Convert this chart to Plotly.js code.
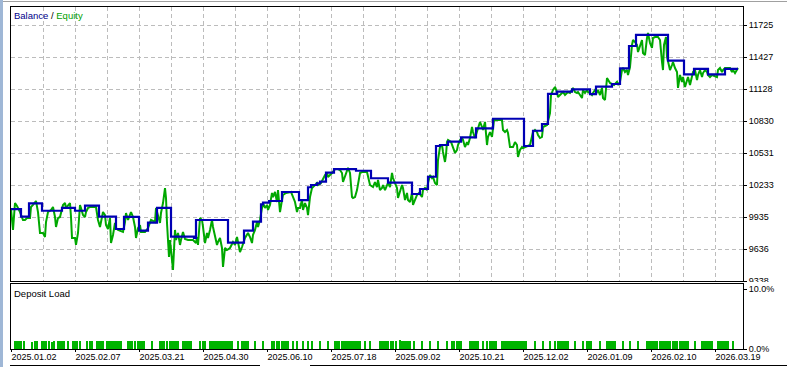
<!DOCTYPE html>
<html>
<head>
<meta charset="utf-8">
<script src="https://cdn.plot.ly/plotly-3.0.1.min.js"></script>
<style>
  html, body { margin: 0; padding: 0; background: #ffffff; }
  #chart { width: 787px; height: 367px; }
</style>
</head>
<body>
<div id="chart"></div>
<script>
// ---- data (x = position along the tester timeline, in bars) ----
const equityX = [0,1,2,4,6,9,12,14,16,19,20,22,25,27,29,32,34,35,37,40,42,44,45,47,49,52,54,55,57,59,60,61,64,65,67,69,70,72,74,75,77,79,85,87,89,90,92,94,95,97,99,100,102,104,105,107,110,112,114,115,117,119,120,122,124,125,127,129,130,134,137,140,144,145,147,149,150,152,154,155,156,158,159,160,162,164,165,167,169,170,172,174,177,182,184,185,186,187,189,191,192,194,196,197,199,201,202,204,206,207,209,211,212,214,216,219,222,224,226,227,229,231,234,237,239,241,242,244,246,247,249,251,252,254,256,257,259,261,262,264,266,267,269,271,272,275,280,284,286,287,289,291,292,294,296,297,299,301,302,304,306,307,310,314,316,317,319,321,324,327,329,331,332,334,336,337,339,341,342,344,346,347,349,351,356,359,361,362,364,366,367,369,371,372,374,376,377,379,381,382,384,386,387,389,391,392,394,396,397,399,401,402,404,406,408,411,412,414,416,417,419,421,422,424,426,427,429,431,432,434,435,436,437,440,444,446,447,449,451,452,454,456,457,459,461,462,464,466,467,469,471,472,474,476,477,479,481,482,483,491,492,494,496,497,499,502,504,506,507,509,511,512,514,516,519,522,524,526,527,529,531,532,536,539,540,542,544,546,547,549,551,552,554,556,557,559,561,562,564,566,567,569,571,572,574,576,577,579,581,582,584,586,587,589,591,592,594,596,597,599,603,606,607,609,611,612,614,616,617,619,621,622,624,626,627,629,631,632,634,636,637,639,641,642,644,647,649,651,652,653,655,656,657,659,661,662,664,666,667,669,671,672,674,676,677,679,681,682,684,686,687,689,691,692,694,696,697,699,701,706,707,709,711,712,714,719,721,722,724,726,727];
const equity = [10009,9907,9814,10065,10037,9981,9907,9907,9925,9925,10028,10047,10084,9981,9786,9786,9748,9888,9981,10000,10028,9935,9842,9925,9935,10047,10065,10019,10047,10065,9935,9739,9739,9674,9786,10047,10019,9953,9935,9981,10019,10028,10028,9907,9842,9888,9981,9953,9860,9823,9925,9692,9767,9879,9832,9814,9804,9795,9888,9972,9907,9953,9981,9935,9842,9739,9832,9860,9795,9795,9832,9907,9888,10019,9935,9879,9972,10065,10205,10112,9879,9562,9720,9599,9441,9814,9720,9786,9674,9720,9795,9730,9720,9720,9702,9692,9748,9674,9925,9907,9842,9692,9786,9739,9814,9907,9842,9748,9674,9702,9739,9646,9469,9646,9627,9646,9702,9674,9748,9702,9608,9655,9739,9786,9748,9692,9767,9814,9888,9842,9907,10019,10065,10019,10047,10000,10047,10159,10121,10168,10075,10186,9981,10093,10140,10159,10168,10075,9981,10019,10019,10093,10000,10065,10019,9953,10121,10205,10214,10233,10252,10233,10252,10326,10345,10308,10326,10345,10382,10382,10373,10345,10261,10308,10373,10392,10345,10121,10112,10121,10186,10252,10345,10354,10354,10233,10214,10214,10261,10214,10280,10186,10205,10233,10186,10233,10252,10214,10345,10298,10252,10205,10112,10168,10233,10205,10093,10159,10093,10075,10159,10047,10093,10140,10159,10121,10186,10205,10186,10252,10326,10298,10308,10252,10233,10466,10587,10606,10541,10448,10513,10634,10653,10634,10532,10560,10606,10653,10671,10653,10587,10634,10606,10671,10774,10727,10671,10727,10774,10821,10774,10746,10821,10606,10681,10727,10681,10765,10839,10839,10746,10727,10746,10718,10587,10587,10634,10606,10494,10560,10587,10578,10587,10597,10606,10727,10746,10727,10699,10671,10681,10774,10793,10904,11072,11119,11147,11100,11054,11072,11091,11100,11072,11091,11100,11091,11119,11138,11100,11091,11100,11072,11044,11119,11091,11119,11100,11091,11072,11091,11119,11100,11119,11072,11138,11044,11026,11231,11212,11184,11166,11194,11166,11194,11305,11324,11287,11305,11259,11333,11539,11585,11566,11539,11473,11520,11585,11464,11445,11604,11650,11557,11511,11604,11613,11613,11585,11380,11305,11539,11613,11427,11380,11305,11352,11380,11324,11287,11138,11259,11194,11240,11147,11212,11240,11166,11231,11287,11305,11212,11259,11305,11240,11277,11305,11287,11259,11240,11259,11240,11305,11324,11287,11305,11324,11324,11287,11305,11277,11305,11324];

const balanceX = [0,10,18,31,51,64,74,88,105,113,128,137,146,160,183,185,217,233,242,250,252,258,271,288,297,300,306,309,315,323,345,360,377,401,409,417,425,429,437,450,465,482,513,522,531,537,546,561,579,585,601,609,618,625,657,673,683,697,714,727];
const balance = [10009,9938,10062,9993,10019,9993,10040,9938,9823,9935,9807,9882,10019,9751,9739,9907,9695,9807,9891,10053,10068,10084,10168,10093,10212,10233,10249,10264,10348,10382,10366,10296,10255,10149,10196,10310,10597,10606,10637,10678,10762,10851,10597,10739,10802,11082,11103,11125,11080,11150,11175,11321,11529,11632,11392,11265,11315,11265,11315,11315];

const loadX = [4,6,8,10,13,21,24,26,31,33,35,38,41,43,47,49,51,53,57,62,64,66,69,76,79,81,86,88,90,92,96,98,100,102,104,106,108,110,117,119,121,124,127,129,131,133,141,149,151,153,156,159,161,163,165,167,172,174,176,178,180,189,192,194,199,201,203,205,207,209,211,213,215,217,219,221,227,231,233,235,237,244,252,261,263,266,268,271,273,275,277,282,286,292,297,301,309,317,324,326,328,331,333,335,337,339,341,343,345,347,349,354,359,369,371,373,375,377,380,382,385,389,391,393,395,397,399,403,411,419,427,436,441,443,446,448,450,459,461,463,465,467,472,476,479,481,483,485,491,493,495,497,499,501,503,505,507,509,511,513,515,524,532,539,544,547,549,551,553,555,557,564,572,576,578,580,589,596,598,600,602,604,612,619,627,636,638,640,642,644,646,649,651,653,655,657,659,662,664,666,669,671,673,675,677,684,691,693,695,697,699,701,707,709,711,713,715,717,722];
const loadPct = [
 1.3,1.4,1.3,1.3,1.3,1.2,1.3,1.3,1.4,1.3,
 1.3,1.3,1.2,1.3,1.3,1.3,1.3,1.3,1.3,1.3,
 1.3,1.3,1.3,1.3,1.3,1.3,1.3,1.3,1.3,1.3,
 1.3,1.3,1.3,1.3,1.3,1.3,1.3,1.3,1.3,1.3,
 1.3,1.3,1.3,1.3,1.3,1.3,1.3,1.3,1.3,1.3,
 1.3,1.3,1.3,1.3,1.3,1.3,1.3,1.3,1.3,1.3,
 1.3,1.3,1.3,1.3,1.3,1.3,1.3,1.3,1.3,1.3,
 1.3,1.3,1.3,1.3,1.3,1.3,1.3,1.3,1.3,1.3,
 1.3,1.3,1.3,1.3,1.3,1.3,1.3,1.3,1.3,1.3,
 1.3,1.3,1.3,1.3,1.3,1.3,1.3,1.3,1.3,1.3,
 1.3,1.3,1.3,1.3,1.3,1.3,1.3,1.3,1.3,1.3,
 1.3,1.3,1.3,1.3,1.3,1.3,1.3,1.3,1.3,1.3,
 1.3,1.5,1.3,1.3,1.3,1.3,1.3,1.3,1.3,1.3,
 1.3,1.3,1.3,1.3,1.3,1.3,1.3,1.3,1.3,1.3,
 1.3,1.3,1.3,1.3,1.3,1.3,1.3,1.3,1.3,1.3,
 1.3,1.3,1.3,1.3,1.3,1.3,1.3,1.3,1.3,1.3,
 1.3,1.3,1.3,1.3,1.3,1.3,1.3,1.3,1.3,1.3,
 1.3,1.3,1.3,1.3,1.3,1.3,1.3,1.3,1.3,1.3,
 1.3,1.3,1.3,1.3,1.3,1.3,1.3,1.3,1.3,1.3,
 1.3,1.3,1.3,1.3,1.3,1.3,1.3,1.3,1.3,1.3,
 1.3,1.3,1.3,1.3,1.3,1.3,1.3,1.3,1.3,1.3,
 1.3,1.3,1.3,1.3,1.3,1.3,1.3,1.3,1.3];

const dateTickX = [0,64,128,192,256,320,384,448,512,576,640,704];
const dateLabels = ['2025.01.02','2025.02.07','2025.03.21','2025.04.30','2025.06.10','2025.07.18','2025.09.02','2025.10.21','2025.12.02','2026.01.09','2026.02.10','2026.03.19'];
const gridTickX = [32,64,96,128,160,192,224,256,288,320,352,384,416,448,480,512,544,576,608,640,672,704];
const valueTicks = [9338,9636.375,9934.75,10233.125,10531.5,10829.875,11128.25,11426.625,11725];
const valueLabels = ['9338','9636','9935','10233','10531','10830','11128','11427','11725'];
const loadTicks = [0,10];
const loadLabels = ['0.0%','10.0%'];

// ---- layout helpers ----
const W = 787, H = 367;
const px = v => v / W;
const py = v => 1 - v / H;
const FONT = 'Liberation Sans, Arial, sans-serif';
const GRID = '#bcbcbc';
const GDASH = '4px,3px';

const traces = [
  {x: equityX, y: equity, type: 'scatter', mode: 'lines', xaxis: 'x2', yaxis: 'y',
   line: {color: '#00a800', width: 2}, hoverinfo: 'skip', showlegend: false},
  {x: balanceX, y: balance, type: 'scatter', mode: 'lines', xaxis: 'x2', yaxis: 'y',
   line: {color: '#0000b4', width: 2.2, shape: 'hv'}, hoverinfo: 'skip', showlegend: false},
  {x: loadX, y: loadPct, type: 'bar', xaxis: 'x', yaxis: 'y2', width: 1.6,
   marker: {color: '#00b400', line: {width: 0}}, hoverinfo: 'skip', showlegend: false}
];

const xDomain = [px(11), px(743)];
const layout = {
  width: W, height: H,
  margin: {l: 0, r: 0, t: 0, b: 0},
  paper_bgcolor: '#ffffff', plot_bgcolor: '#ffffff',
  font: {family: FONT, size: 9, color: '#000000'},
  bargap: 0,
  xaxis: {
    domain: xDomain, anchor: 'y2', range: [0, 732],
    tickmode: 'array', tickvals: dateTickX, ticktext: dateLabels,
    ticks: 'outside', ticklen: 2, tickcolor: '#000', ticklabelshift: 23, ticklabelstandoff: -3,
    tickfont: {family: FONT, size: 9, color: '#000'},
    showgrid: false,
    showline: true, linecolor: '#000', linewidth: 1, mirror: true, zeroline: false
  },
  xaxis2: {
    domain: xDomain, anchor: 'y', range: [0, 732],
    tickmode: 'array', tickvals: gridTickX, showticklabels: false, ticks: '',
    showgrid: true, gridcolor: GRID, griddash: GDASH, gridwidth: 1,
    showline: true, linecolor: '#000', linewidth: 1, mirror: true, zeroline: false
  },
  xaxis3: {
    domain: xDomain, anchor: 'y2', overlaying: 'x', range: [0, 732],
    tickmode: 'array', tickvals: gridTickX, showticklabels: false, ticks: '',
    showgrid: true, gridcolor: GRID, griddash: GDASH, gridwidth: 1,
    showline: false, zeroline: false
  },
  yaxis: {
    domain: [py(281), py(7)], anchor: 'x2', side: 'right',
    range: [9338, 9338 + 274 * 298.375 / 32],
    tickmode: 'array', tickvals: valueTicks, ticktext: valueLabels,
    ticks: 'outside', ticklen: 3, tickcolor: '#000',
    tickfont: {family: FONT, size: 9, color: '#000'},
    showgrid: true, gridcolor: GRID, griddash: GDASH, gridwidth: 1,
    showline: true, linecolor: '#000', linewidth: 1, mirror: true, zeroline: false
  },
  yaxis2: {
    domain: [py(349), py(284)], anchor: 'x', side: 'right',
    range: [0, 65 / 6],
    tickmode: 'array', tickvals: loadTicks, ticktext: loadLabels,
    ticks: 'outside', ticklen: 3, tickcolor: '#000',
    tickfont: {family: FONT, size: 9, color: '#000'},
    showgrid: false,
    showline: true, linecolor: '#000', linewidth: 1, mirror: true, zeroline: false
  },
  shapes: [
    {type: 'rect', xref: 'paper', yref: 'paper', x0: 0, x1: px(3), y0: 0, y1: 1,
     fillcolor: '#9fb7d6', line: {width: 0}, layer: 'above'},
    {type: 'line', xref: 'paper', yref: 'paper', x0: px(3), x1: 1, y0: py(1.5), y1: py(1.5),
     line: {color: '#a0a0a0', width: 1}, layer: 'above'},
    {type: 'line', xref: 'paper', yref: 'paper', x0: px(10), x1: px(260), y0: py(365.5), y1: py(365.5),
     line: {color: '#000', width: 1}, layer: 'above'},
    {type: 'line', xref: 'paper', yref: 'paper', x0: px(310), x1: 1, y0: py(365.5), y1: py(365.5),
     line: {color: '#000', width: 1}, layer: 'above'},
    {type: 'rect', xref: 'paper', yref: 'paper', x0: px(744.5), x1: 1, y0: py(285), y1: py(282),
     fillcolor: '#ffffff', line: {width: 0}, layer: 'above'}
  ],
  annotations: [
    {xref: 'paper', yref: 'paper', x: px(12), y: py(8), xanchor: 'left', yanchor: 'top', showarrow: false,
     text: '<span style="color:#00008b">Balance</span> / <span style="color:#00a000">Equity</span>',
     font: {family: FONT, size: 9.5, color: '#000'}},
    {xref: 'paper', yref: 'paper', x: px(12), y: py(286), xanchor: 'left', yanchor: 'top', showarrow: false,
     text: 'Deposit Load', font: {family: FONT, size: 9.5, color: '#000'}}
  ]
};

Plotly.newPlot('chart', traces, layout, {staticPlot: true, displayModeBar: false});
</script>
</body>
</html>
